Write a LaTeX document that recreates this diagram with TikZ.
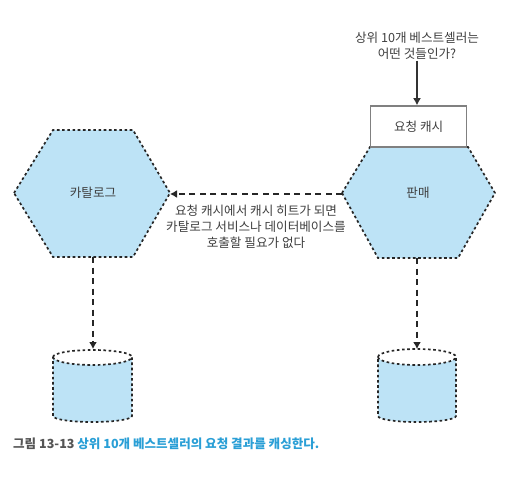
\documentclass[tikz,border=0pt]{standalone}
\usepackage{fontspec}
\setmainfont{Noto Sans CJK KR}
\usetikzlibrary{arrows.meta}
\definecolor{fillblue}{HTML}{BDE3F6}
\definecolor{inktext}{HTML}{3F3F3F}
\definecolor{capblue}{HTML}{2A9FD6}
\definecolor{capgray}{HTML}{555555}
\tikzset{
  x=1pt,y=-1pt,
  dotline/.style={draw=black!85,line width=1.7pt,dash pattern=on 2.6pt off 2.6pt},
  hexshape/.style={dotline,fill=fillblue},
  arrowline/.style={draw=black!85,line width=1.5pt,dash pattern=on 6pt off 4.5pt,-{Latex[length=7pt,width=8pt]}},
  lab/.style={font=\fontsize{12.6}{16.2}\selectfont,text=inktext,align=center,inner sep=0pt},
}
\begin{document}
\begin{tikzpicture}
\useasboundingbox (0,0) rectangle (532,476);
\fill[white] (0,0) rectangle (532,476);
% hexagons
\draw[hexshape] (14,193) -- (53,130) -- (133,130) -- (170,193) -- (133,257) -- (53,257) -- cycle;
\draw[hexshape] (342,193) -- (370,147) -- (468,147) -- (495,193) -- (458,258) -- (378,258) -- cycle;
\coordinate (catR) at (170,194);
\coordinate (saleL) at (342,194);
\coordinate (catB) at (93,257);
\coordinate (saleB) at (417,258);
\node[lab] (cat) at (93,193) {카탈로그};
\node[lab] (sale) at (418,193) {판매};
% cache
\node[draw=black!50,line width=1.5pt,minimum width=96pt,minimum height=41pt,inner sep=0pt,font=\fontsize{12.6}{14}\selectfont,text=inktext] (cache) at (418.7,126.5) {요청 캐시};
\node[lab] (q) at (417,45.5) {상위 10개 베스트셀러는\\어떤 것들인가?};
\draw[line width=1.5pt,draw=black!80,-{Latex[length=7pt,width=8pt]}] (q.south) ++(0,1) -- (q.south |- cache.north);
% cylinders
\coordinate (db1top) at (93,349);
\coordinate (db2top) at (417,349);
\draw[hexshape] (53,357) arc[x radius=39.5,y radius=8,start angle=180,end angle=0] -- (132,416) arc[x radius=39.5,y radius=6,start angle=0,end angle=180] -- cycle;
\draw[dotline] (53,357) arc[x radius=39.5,y radius=7,start angle=180,end angle=360];
\draw[hexshape] (378,357) arc[x radius=39,y radius=8,start angle=180,end angle=0] -- (456,416) arc[x radius=39,y radius=6,start angle=0,end angle=180] -- cycle;
\draw[dotline] (378,357) arc[x radius=39,y radius=8,start angle=180,end angle=360];
% connectors
\draw[arrowline] (saleL) -- (catR);
\draw[arrowline] (catB) -- (db1top);
\draw[arrowline] (saleB) -- (db2top);
\node[lab] (note) at (256,227) {요청 캐시에서 캐시 히트가 되면\\카탈로그 서비스나 데이터베이스를\\호출할 필요가 없다};
\node[anchor=west,inner sep=0pt,font=\fontsize{12.55}{14}\selectfont\bfseries] (caption) at (13,444) {\textcolor{capgray}{그림 13-13} \textcolor{capblue}{상위 10개 베스트셀러의 요청 결과를 캐싱한다.}};
\end{tikzpicture}
\end{document}
